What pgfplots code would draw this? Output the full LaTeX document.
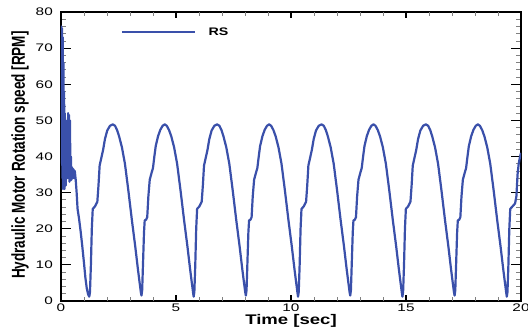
\documentclass[border=0pt]{standalone}
\usepackage{fontspec}
\setmainfont{Liberation Sans}
\usepackage{graphicx}
\usepackage{pgfplots}
\pgfplotsset{compat=1.18}
\definecolor{rsblue}{RGB}{58,80,170}
\begin{document}
\begin{tikzpicture}
\useasboundingbox (-61bp,-30bp) rectangle (467bp,301bp);
\begin{axis}[
  at={(0,0)}, anchor=south west,
  width=460bp, height=289bp, scale only axis,
  xmin=0, xmax=20, ymin=0, ymax=80,
  xtick={0,5,10,15,20}, ytick={0,10,...,80},
  minor x tick num=4, minor y tick num=4,
  /pgf/number format/assume math mode=true,
  ticklabel style={font=\fontsize{11}{13}\selectfont, inner sep=0pt},
  xticklabel={\scalebox{1.4}[1]{\pgfmathprintnumber{\tick}}},
  yticklabel={\scalebox{1.4}[1]{\pgfmathprintnumber{\tick}}},
  xticklabel style={anchor=north, yshift=-3bp},
  yticklabel style={anchor=east, xshift=-8bp},
  major tick length=10bp, minor tick length=5.5bp,
  major tick style={black, line width=1.2bp},
  minor tick style={black!50, line width=0.8bp},
  major x tick style={draw=none}, minor x tick style={draw=none},
  axis line style={black, line width=1.5bp},
  xlabel={\scalebox{1.33}[1]{\fontsize{14}{16}\selectfont\bfseries Time [sec]}},
  ylabel={\scalebox{1}[1.38]{\fontsize{13.6}{16}\selectfont\bfseries Hydraulic Motor Rotation speed [RPM]}},
  xlabel style={at={(axis description cs:0.5,-0.083)}, anchor=base, inner sep=0pt},
  ylabel style={at={(axis description cs:-0.0783,0.505)}, anchor=base, inner sep=0pt},
  legend style={draw=none, fill=none, at={(axis description cs:0.1298,0.9298)}, anchor=west,
    inner sep=0pt, outer sep=0pt, nodes={inner sep=0pt}, font=\fontsize{11}{13}\selectfont,
    /tikz/every odd column/.append style={column sep=12bp}},
  legend cell align=left,
  legend image code/.code={\draw[#1] (0bp,0bp) -- (73.6bp,0bp);},
]
\addplot[rsblue, line width=2.2bp, line join=round] coordinates {
(0.000,38) (0.015,76) (0.030,42) (0.045,75.5) (0.060,34) (0.075,73) (0.090,31) (0.105,66)
(0.120,33) (0.135,58) (0.150,31) (0.165,52) (0.180,35) (0.195,47) (0.210,32) (0.230,44)
(0.250,36) (0.270,50) (0.290,34) (0.310,52) (0.330,38) (0.350,51.5) (0.370,33) (0.390,50)
(0.410,34) (0.430,40) (0.450,33.5) (0.480,37) (0.510,34) (0.540,36.5) (0.570,34) (0.600,36)
(0.640,33.5) (0.680,30) (0.720,25.5) (0.780,23) (0.850,19.5) (0.920,15.5) (1.000,10.5)
(1.060,6.5) (1.120,3.5) (1.180,1.8)
(1.230,1.2) (1.260,2.5) (1.300,10) (1.340,20) (1.380,25.5) (1.480,26.2) (1.580,27.5) (1.630,32)
(1.680,37.5) (1.750,39.5) (1.830,41.8) (1.910,44.8) (2.010,47.2) (2.130,48.5) (2.250,48.9)
(2.350,48.5) (2.440,47.3) (2.530,45.5) (2.650,42.5) (2.780,38) (2.930,30.5) (3.080,22.5)
(3.230,15) (3.350,8.5) (3.430,4.5) (3.470,2.5)
(3.499,1.5) (3.529,3) (3.569,11) (3.609,19) (3.639,22.3) (3.699,22.5) (3.749,23.2) (3.799,29)
(3.859,33.6) (3.939,35.5) (3.999,36.8) (4.059,40) (4.119,42.9) (4.219,45.6) (4.319,47.4)
(4.419,48.5) (4.509,48.9) (4.599,48.5) (4.699,47.3) (4.799,45.5) (4.919,42.5) (5.049,38)
(5.199,30.5) (5.349,22.5) (5.499,15) (5.619,8.5) (5.699,4.5) (5.739,2.5)
(5.768,1.2) (5.798,2.5) (5.838,10) (5.878,20) (5.918,25.5) (6.018,26.2) (6.118,27.5) (6.168,32)
(6.218,37.5) (6.288,39.5) (6.368,41.8) (6.448,44.8) (6.548,47.2) (6.668,48.5) (6.788,48.9)
(6.888,48.5) (6.978,47.3) (7.068,45.5) (7.188,42.5) (7.318,38) (7.468,30.5) (7.618,22.5)
(7.768,15) (7.888,8.5) (7.968,4.5) (8.008,2.5)
(8.037,1.5) (8.067,3) (8.107,11) (8.147,19) (8.177,22.3) (8.237,22.5) (8.287,23.2) (8.337,29)
(8.397,33.6) (8.477,35.5) (8.537,36.8) (8.597,40) (8.657,42.9) (8.757,45.6) (8.857,47.4)
(8.957,48.5) (9.047,48.9) (9.137,48.5) (9.237,47.3) (9.337,45.5) (9.457,42.5) (9.587,38)
(9.737,30.5) (9.887,22.5) (10.037,15) (10.157,8.5) (10.237,4.5) (10.277,2.5)
(10.306,1.2) (10.336,2.5) (10.376,10) (10.416,20) (10.456,25.5) (10.556,26.2) (10.656,27.5) (10.706,32)
(10.756,37.5) (10.826,39.5) (10.906,41.8) (10.986,44.8) (11.086,47.2) (11.206,48.5) (11.326,48.9)
(11.426,48.5) (11.516,47.3) (11.606,45.5) (11.726,42.5) (11.856,38) (12.006,30.5) (12.156,22.5)
(12.306,15) (12.426,8.5) (12.506,4.5) (12.546,2.5)
(12.575,1.5) (12.605,3) (12.645,11) (12.685,19) (12.715,22.3) (12.775,22.5) (12.825,23.2) (12.875,29)
(12.935,33.6) (13.015,35.5) (13.075,36.8) (13.135,40) (13.195,42.9) (13.295,45.6) (13.395,47.4)
(13.495,48.5) (13.585,48.9) (13.675,48.5) (13.775,47.3) (13.875,45.5) (13.995,42.5) (14.125,38)
(14.275,30.5) (14.425,22.5) (14.575,15) (14.695,8.5) (14.775,4.5) (14.815,2.5)
(14.844,1.2) (14.874,2.5) (14.914,10) (14.954,20) (14.994,25.5) (15.094,26.2) (15.194,27.5) (15.244,32)
(15.294,37.5) (15.364,39.5) (15.444,41.8) (15.524,44.8) (15.624,47.2) (15.744,48.5) (15.864,48.9)
(15.964,48.5) (16.054,47.3) (16.144,45.5) (16.264,42.5) (16.394,38) (16.544,30.5) (16.694,22.5)
(16.844,15) (16.964,8.5) (17.044,4.5) (17.084,2.5)
(17.113,1.5) (17.143,3) (17.183,11) (17.223,19) (17.253,22.3) (17.313,22.5) (17.363,23.2) (17.413,29)
(17.473,33.6) (17.553,35.5) (17.613,36.8) (17.673,40) (17.733,42.9) (17.833,45.6) (17.933,47.4)
(18.033,48.5) (18.123,48.9) (18.213,48.5) (18.313,47.3) (18.413,45.5) (18.533,42.5) (18.663,38)
(18.813,30.5) (18.963,22.5) (19.113,15) (19.233,8.5) (19.313,4.5) (19.353,2.5)
(19.382,1.2) (19.412,2.5) (19.452,10) (19.492,20) (19.532,25.5) (19.632,26.2) (19.742,27)
(19.800,29) (19.850,35) (19.900,38) (19.960,40) (20.000,41)
};
\addlegendentry{\scalebox{1.3}[1]{\bfseries RS}}
\end{axis}
\begin{axis}[
  at={(0,0)}, anchor=south west,
  width=460bp, height=289bp, scale only axis,
  xmin=0, xmax=20, ymin=0, ymax=80,
  xtick={0,5,10,15,20}, minor x tick num=4, ytick=\empty,
  xticklabels={},
  axis line style={draw=none},
  major tick length=6bp, minor tick length=3.5bp,
  major tick style={black, line width=1.2bp},
  minor tick style={black!50, line width=0.8bp},
]
\addplot[draw=none] coordinates {(0,0)};
\end{axis}
\end{tikzpicture}
\end{document}
